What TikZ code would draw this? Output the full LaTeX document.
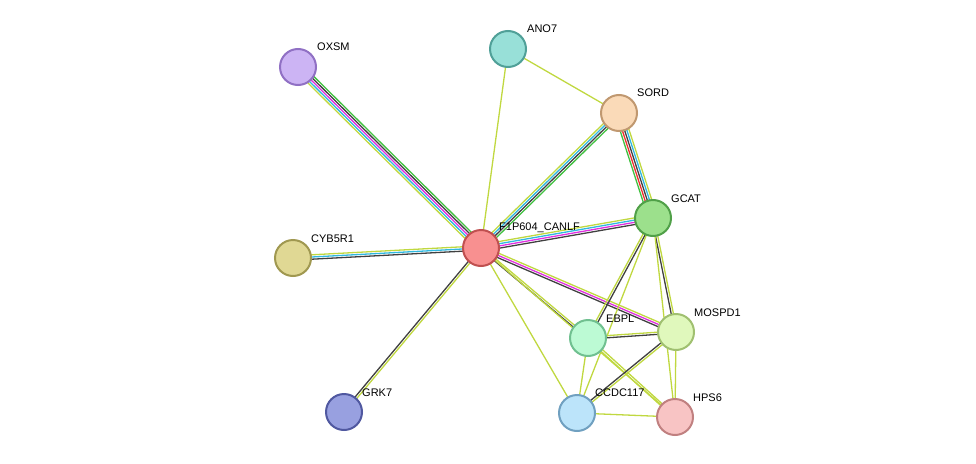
\documentclass[tikz,border=0pt]{standalone}
\usepackage{fontspec}
\setmainfont{Liberation Sans}
\usetikzlibrary{calc}
\definecolor{yg}{HTML}{C0D840}
\definecolor{cy}{HTML}{30B8E0}
\definecolor{mg}{HTML}{E030E0}
\definecolor{gn}{HTML}{40C040}
\definecolor{bk}{HTML}{404040}
\definecolor{rd}{HTML}{F03030}
\definecolor{fF}{RGB}{248,144,144}\definecolor{dF}{RGB}{192,80,80}
\definecolor{fOX}{RGB}{204,180,244}\definecolor{dOX}{RGB}{144,112,196}
\definecolor{fAN}{RGB}{152,224,216}\definecolor{dAN}{RGB}{80,160,152}
\definecolor{fSO}{RGB}{250,218,184}\definecolor{dSO}{RGB}{192,152,112}
\definecolor{fGC}{RGB}{156,224,140}\definecolor{dGC}{RGB}{80,160,72}
\definecolor{fCY}{RGB}{224,216,148}\definecolor{dCY}{RGB}{160,152,80}
\definecolor{fEB}{RGB}{188,250,212}\definecolor{dEB}{RGB}{112,192,144}
\definecolor{fMO}{RGB}{224,248,188}\definecolor{dMO}{RGB}{160,192,112}
\definecolor{fGR}{RGB}{152,160,224}\definecolor{dGR}{RGB}{80,88,160}
\definecolor{fCC}{RGB}{188,228,250}\definecolor{dCC}{RGB}{112,160,192}
\definecolor{fHP}{RGB}{248,196,196}\definecolor{dHP}{RGB}{192,128,128}
\newcommand\medge[4]{%
  \foreach \cc [count=\ii] in {#4} {%
    \pgfmathsetmacro\off{(\ii-(#3+1)/2)*2.2}%
    \draw[\cc,line width=1.3pt] ($(#1)!\off pt!90:(#2)$) -- ($(#2)!\off pt!-90:(#1)$);
  }}
\tikzset{nd/.style={circle,minimum size=36pt,inner sep=0pt,line width=2pt},
  lb/.style={anchor=south west,inner sep=0pt,font=\fontsize{11}{13}\selectfont}}
\begin{document}
\begin{tikzpicture}[x=1pt,y=-1pt]
\useasboundingbox (0,0) rectangle (976,463);
\coordinate (F) at (481,248);
\coordinate (OX) at (298,67);
\coordinate (AN) at (508,49);
\coordinate (SO) at (619,113);
\coordinate (GC) at (653,218);
\coordinate (CY) at (293,258);
\coordinate (EB) at (588,338);
\coordinate (MO) at (676,332);
\coordinate (GR) at (344,412);
\coordinate (CC) at (577,413);
\coordinate (HP) at (675,417);
\medge{F}{OX}{5}{gn,bk,mg,cy,yg}
\medge{F}{AN}{1}{yg}
\medge{AN}{SO}{1}{yg}
\medge{F}{SO}{4}{gn,bk,cy,yg}
\medge{SO}{GC}{5}{gn,rd,bk,cy,yg}
\medge{F}{GC}{4}{bk,mg,cy,yg}
\medge{F}{CY}{3}{yg,cy,bk}
\medge{F}{GR}{2}{bk,yg}
\medge{F}{MO}{3}{bk,mg,yg}
\medge{F}{EB}{2}{bk,yg}
\medge{F}{CC}{1}{yg}
\medge{F}{HP}{1}{yg}
\medge{GC}{EB}{2}{yg,bk}
\medge{GC}{CC}{1}{yg}
\medge{GC}{MO}{2}{bk,yg}
\medge{GC}{HP}{1}{yg}
\medge{EB}{MO}{2}{bk,yg}
\medge{EB}{CC}{1}{yg}
\medge{EB}{HP}{2}{yg,yg}
\medge{MO}{CC}{2}{bk,yg}
\medge{MO}{HP}{1}{yg}
\medge{CC}{HP}{1}{yg}
\foreach \n in {F,OX,AN,SO,GC,CY,EB,MO,GR,CC,HP}
  \node[nd,fill=f\n,draw=d\n] (n\n) at (\n) {};
\node[lb] (lF) at (499,233) {F1P604\_CANLF};
\node[lb] (lOX) at (317,51) {OXSM};
\node[lb] (lAN) at (527,33) {ANO7};
\node[lb] (lSO) at (637,97) {SORD};
\node[lb] (lGC) at (671,203) {GCAT};
\node[lb] (lCY) at (311,243) {CYB5R1};
\node[lb] (lEB) at (606,323) {EBPL};
\node[lb] (lMO) at (694,317) {MOSPD1};
\node[lb] (lGR) at (362,397) {GRK7};
\node[lb] (lCC) at (595,397) {CCDC117};
\node[lb] (lHP) at (693,402) {HPS6};
\end{tikzpicture}
\end{document}
